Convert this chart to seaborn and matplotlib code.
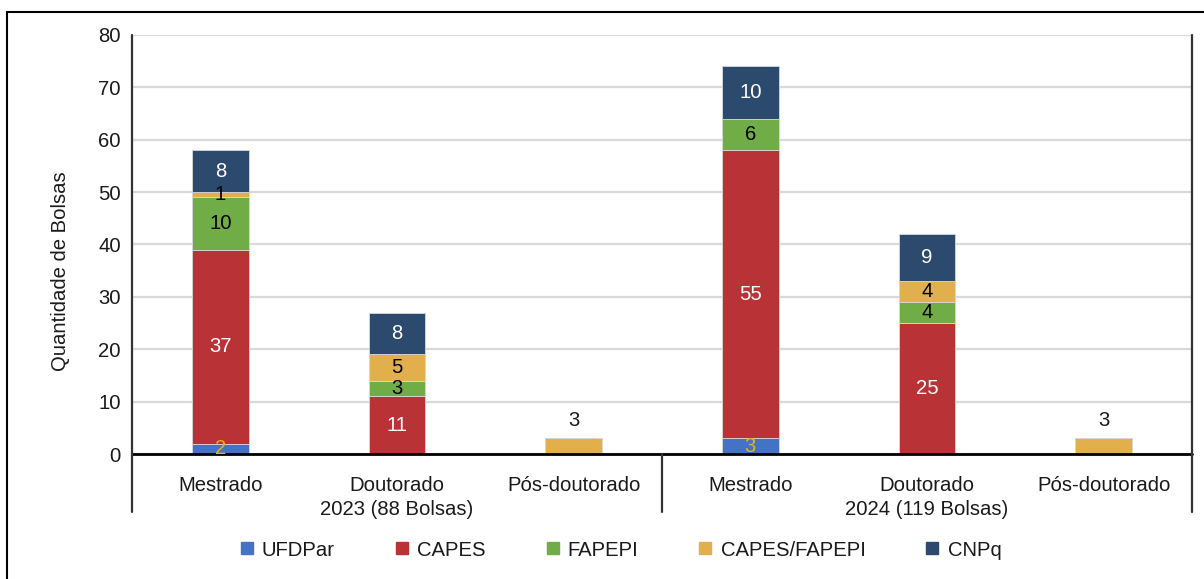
import matplotlib
matplotlib.use('Agg')
import matplotlib.pyplot as plt
import matplotlib.transforms as mtransforms
from matplotlib.lines import Line2D
import seaborn as sns
import numpy as np
import pandas as pd

# ---------------- data ----------------
categories = ['Mestrado 2023', 'Doutorado 2023', 'Pós-doutorado 2023',
              'Mestrado 2024', 'Doutorado 2024', 'Pós-doutorado 2024']
tick_labels = ['Mestrado', 'Doutorado\n2023 (88 Bolsas)', 'Pós-doutorado',
               'Mestrado', 'Doutorado\n2024 (119 Bolsas)', 'Pós-doutorado']
series = ['UFDPar', 'CAPES', 'FAPEPI', 'CAPES/FAPEPI', 'CNPq']
ufdpar = [2, 0, 0, 3, 0, 0]
capes = [37, 11, 0, 55, 25, 0]
fapepi = [10, 3, 0, 6, 4, 0]
capes_fapepi = [1, 5, 3, 0, 4, 3]
cnpq = [8, 8, 0, 10, 9, 0]
y_label = 'Quantidade de Bolsas'
y_ticks = [0, 10, 20, 30, 40, 50, 60, 70, 80]

values = [ufdpar, capes, fapepi, capes_fapepi, cnpq]
colors = {'UFDPar': '#4472C4', 'CAPES': '#B83236', 'FAPEPI': '#70AD47',
          'CAPES/FAPEPI': '#E1AF4C', 'CNPq': '#2C4A6E'}
label_colors = {'UFDPar': '#E8B20A', 'CAPES': 'white', 'FAPEPI': 'black',
                'CAPES/FAPEPI': 'black', 'CNPq': 'white'}

# ---------------- style ----------------
sns.set_theme(style='white')
plt.rcParams['font.family'] = ['Liberation Sans', 'DejaVu Sans']
FS = 14.6

fig = plt.figure(figsize=(12.04, 5.79), dpi=100)
ax = fig.add_axes([132 / 1204, 1 - 454 / 579, (1192 - 132) / 1204, (454 - 35) / 579])

totals = np.sum(np.array(values), axis=0)
bottom = np.zeros(len(categories))
for name, vals in zip(series, values):
    df = pd.DataFrame({'cat': categories, 'v': vals})
    sns.barplot(data=df, x='cat', y='v', order=categories, color=colors[name],
                saturation=1, bottom=bottom.copy(), width=0.32, errorbar=None,
                edgecolor='#d8d8d8', linewidth=0.6, ax=ax, zorder=3)
    for i, v in enumerate(vals):
        if v <= 0:
            continue
        if v == totals[i]:
            ax.annotate(str(v), (i, bottom[i] + v), xytext=(0, 6),
                        textcoords='offset points', ha='center', va='bottom',
                        fontsize=FS, color='#1a1a1a', zorder=6)
        else:
            ax.text(i, bottom[i] + v / 2, str(v), ha='center', va='center',
                    fontsize=FS, color=label_colors[name], zorder=6)
    bottom = bottom + np.array(vals)

ax.set_xlim(-0.5, len(categories) - 0.5)
ax.set_ylim(0, 80)
ax.set_yticks(y_ticks)
ax.set_xticks(range(len(categories)))
ax.set_xticklabels(tick_labels, fontsize=FS, color='#1a1a1a', linespacing=1.3)
ax.tick_params(axis='y', labelsize=FS, colors='#1a1a1a', length=0, pad=8)
ax.tick_params(axis='x', length=0, pad=16)
ax.set_xlabel('')
ax.set_ylabel('')
ax.yaxis.grid(True, color='#d9d9d9', linewidth=1.6)
ax.xaxis.grid(False)
ax.set_axisbelow(True)
for s in ax.spines.values():
    s.set_visible(False)

# axis lines
ax.axhline(0, color='black', linewidth=2, zorder=5, clip_on=False)
trans = mtransforms.blended_transform_factory(ax.transData, ax.transAxes)
low = -(512 - 454) / (454 - 35)
ax.plot([-0.5, -0.5], [low, 1], color='#333333', linewidth=1.6, transform=trans, clip_on=False, zorder=5)
ax.plot([2.5, 2.5], [low, 0], color='#333333', linewidth=1.6, transform=trans, clip_on=False, zorder=5)
ax.plot([5.5, 5.5], [low, 1], color='#333333', linewidth=1.6, transform=trans, clip_on=False, zorder=5)

fig.text(60 / 1204, 1 - 271 / 579, y_label, rotation=90, ha='center', va='center',
         fontsize=FS, color='#1a1a1a')

# legend
handles = [Line2D([0], [0], marker='s', linestyle='none', markersize=8,
                  markerfacecolor=colors[n], markeredgecolor=colors[n]) for n in series]
fig.legend(handles, series, loc='center', bbox_to_anchor=(621 / 1204, 1 - 550 / 579),
           ncol=5, frameon=False, fontsize=FS, handlelength=0.6, handletextpad=0.45,
           columnspacing=3.0, labelcolor='#1a1a1a')

# outer frame
fig.add_artist(Line2D([7 / 1204, 1.0], [1 - 12 / 579, 1 - 12 / 579], color='black',
                      linewidth=1.5, transform=fig.transFigure))
fig.add_artist(Line2D([7 / 1204, 7 / 1204], [1 - 12 / 579, 0.0], color='black',
                      linewidth=1.5, transform=fig.transFigure))

fig.savefig('out.png', dpi=100)
